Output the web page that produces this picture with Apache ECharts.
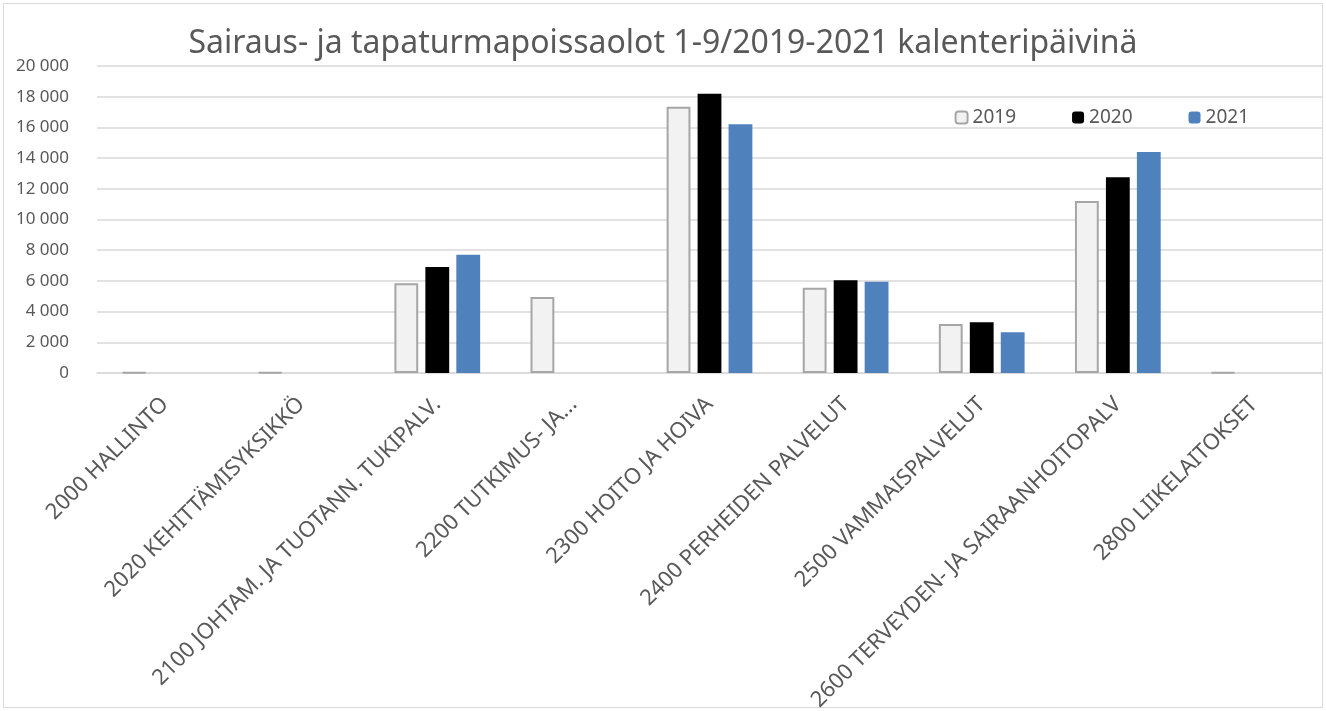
<!DOCTYPE html>
<html>
<head>
<meta charset="utf-8">
<script src="https://cdn.jsdelivr.net/npm/echarts@6/dist/echarts.min.js"></script>
<style>
html,body{margin:0;padding:0;background:#fff;}
#chart{width:1326px;height:711px;}
</style>
</head>
<body>
<div id="chart"></div>
<script>
const titleText = 'Sairaus- ja tapaturmapoissaolot 1-9/2019-2021 kalenteripäivinä';
const categories = [
  '2000 HALLINTO',
  '2020 KEHITTÄMISYKSIKKÖ',
  '2100 JOHTAM. JA TUOTANN. TUKIPALV.',
  '2200 TUTKIMUS- JA...',
  '2300 HOITO JA HOIVA',
  '2400 PERHEIDEN PALVELUT',
  '2500 VAMMAISPALVELUT',
  '2600 TERVEYDEN- JA SAIRAANHOITOPALV',
  '2800 LIIKELAITOKSET'
];
const seriesNames = ['2019', '2020', '2021'];
const values2019 = [40, 40, 5850, 4950, 17350, 5550, 3200, 11200, 40];
const values2020 = [null, null, 6900, null, 18200, 6050, 3300, 12750, null];
const values2021 = [null, null, 7700, null, 16200, 5950, 2650, 14400, null];
const yTicks = {min: 0, max: 20000, interval: 2000};

const FONT = 'Noto Sans';
const TXT = '#595959';
const fmt = v => String(v).replace(/\B(?=(\d{3})+(?!\d))/g, ' ');

const chart = echarts.init(document.getElementById('chart'), null, {renderer: 'canvas'});
chart.setOption({
  animation: false,
  backgroundColor: '#fff',
  textStyle: {fontFamily: FONT},
  title: {
    text: titleText,
    left: 'center',
    top: 23,
    textStyle: {fontFamily: FONT, fontSize: 32, fontWeight: 'normal', color: TXT}
  },
  legend: {
    data: seriesNames,
    right: 72,
    top: 103,
    itemWidth: 12,
    itemHeight: 12,
    itemGap: 56,
    textStyle: {fontFamily: FONT, fontSize: 19, color: TXT}
  },
  graphic: [{
    type: 'rect',
    shape: {x: 3.5, y: 3.5, width: 1319, height: 704},
    style: {fill: 'none', stroke: '#d9d9d9', lineWidth: 1},
    silent: true
  }],
  grid: {left: 97, right: 4, top: 66, bottom: 338, containLabel: false, outerBoundsMode: 'none'},
  xAxis: {
    type: 'category',
    data: categories,
    axisLine: {show: true, lineStyle: {color: '#d9d9d9', width: 1.5}},
    axisTick: {show: false},
    axisLabel: {interval: 0, rotate: 45, margin: 28, fontSize: 22, color: TXT, fontFamily: FONT}
  },
  yAxis: {
    type: 'value',
    min: yTicks.min,
    max: yTicks.max,
    interval: yTicks.interval,
    axisLine: {show: false},
    axisTick: {show: false},
    splitLine: {lineStyle: {color: '#d9d9d9', width: 1.5}},
    axisLabel: {formatter: fmt, fontSize: 17, color: TXT, fontFamily: FONT, margin: 28}
  },
  series: [
    {name: seriesNames[0], type: 'bar', data: values2019, barGap: '30%', barCategoryGap: '37%',
     itemStyle: {color: '#f2f2f2', borderColor: '#a6a6a6', borderWidth: 2}},
    {name: seriesNames[1], type: 'bar', data: values2020, barGap: '30%', barCategoryGap: '37%',
     itemStyle: {color: '#000000'}},
    {name: seriesNames[2], type: 'bar', data: values2021, barGap: '30%', barCategoryGap: '37%',
     itemStyle: {color: '#4f81bd'}}
  ]
});
</script>
</body>
</html>
